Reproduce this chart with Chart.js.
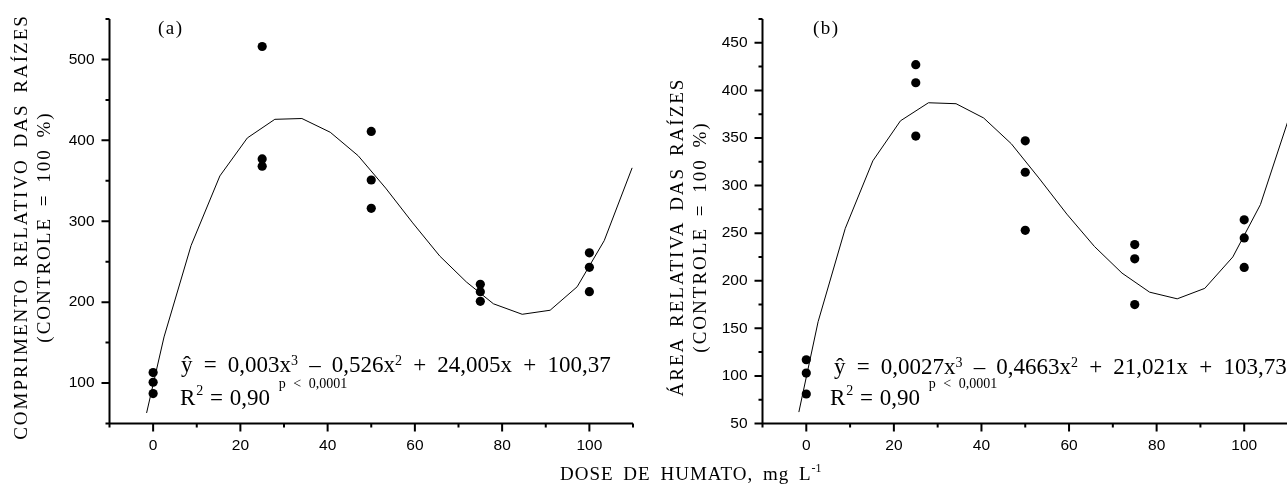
<!DOCTYPE html>
<html><head><meta charset="utf-8">
<script src="https://cdn.jsdelivr.net/npm/chart.js@4/dist/chart.umd.min.js"></script>
<style>
html,body{margin:0;padding:0;background:#fff;overflow:hidden;width:1287px;height:492px}
body{position:relative}
canvas{position:absolute;top:0}
#cA{left:0}
#cB{left:650px}
.t{position:absolute;font-family:"Liberation Serif","Times New Roman",serif;color:#000;white-space:pre;line-height:1}
.yt{font-size:19px;letter-spacing:2px;word-spacing:4px;line-height:23px;text-align:center;width:460px;height:46px;transform:rotate(-90deg);transform-origin:50% 50%}
.eq{font-size:23px;word-spacing:5.4px}
.eq2{font-size:23px;word-spacing:1px}
.s1{font-size:14px;position:relative;top:-7px}
.s2{font-size:14px;position:relative;top:-10px;margin-left:1px}
.pv{font-size:14px;position:relative;top:-17px;word-spacing:4px;margin-left:2px}
.pl{font-size:19px;letter-spacing:1.5px}
.xt{font-size:19px;letter-spacing:1px;word-spacing:4px}
.xs{font-size:12px;position:relative;top:-8px;letter-spacing:0}
</style>
</head>
<body>
<canvas id="cA" width="650" height="492"></canvas>
<canvas id="cB" width="650" height="492"></canvas>

<div class="t yt" style="left:-198px;top:204px">COMPRIMENTO RELATIVO DAS RAÍZES
(CONTROLE = 100 %)</div>
<div class="t yt" style="left:458px;top:214px">ÁREA RELATIVA DAS RAÍZES
(CONTROLE = 100 %)</div>

<div class="t pl" style="left:158px;top:18px">(a)</div>
<div class="t pl" style="left:813px;top:18px">(b)</div>

<div class="t eq" style="left:181px;top:353px">ŷ = 0,003x<span class="s1">3</span> – 0,526x<span class="s1">2</span> + 24,005x + 100,37</div>
<div class="t eq2" style="left:180px;top:386px">R<span class="s2">2</span> = 0,90 <span class="pv">p &lt; 0,0001</span></div>

<div class="t eq" style="left:834px;top:355px">ŷ = 0,0027x<span class="s1">3</span> – 0,4663x<span class="s1">2</span> + 21,021x + 103,73</div>
<div class="t eq2" style="left:830px;top:386px">R<span class="s2">2</span> = 0,90 <span class="pv">p &lt; 0,0001</span></div>

<div class="t xt" style="left:560px;top:464px">DOSE DE HUMATO, mg L<span class="xs">-1</span></div>

<script>
// ---- data ----
const dose = [0,0,0,25,25,25,50,50,50,75,75,75,100,100,100];
const comprimento = [113,101,87,516,377,368,411,351,316,222,213,201,261,243,213];
const area = [117,103,81,427,408,352,347,314,253,238,223,175,264,245,214];

// fitted curves as drawn (vertices)
const fitXA = [-1.5,2.5,8.7,15.3,21.6,27.9,34.1,40.6,47.0,53.3,59.5,65.7,71.8,78.0,84.6,91.0,97.2,103.4,109.8];
const fitYA = [63,157,270,356,403,426,427,410,381,341,298,257,225,198,185,190,219,276,366];
const fitXB = [-1.7,2.7,8.9,15.2,21.5,27.9,34.2,40.5,46.8,53.1,59.5,65.8,72.1,78.4,84.7,91.0,97.4,103.7,110];
const fitYB = [62,157,255,326,368,387,386,371,344,308,270,236,208,188,181,192,225,280,368];

// ticks
const xMajor = [-20,0,20,40,60,80,100,120];
const xLabels = [0,20,40,60,80,100];
const yLabelsA = [100,200,300,400,500];
const yLabelsB = [50,100,150,200,250,300,350,400,450];

const tickFont = {family:"'Liberation Sans', Arial, sans-serif", size:15.5};

const axesPlugin = {
  id:'axesPlugin',
  afterDraw(chart){
    const {ctx, chartArea:a, scales:{x,y}} = chart;
    const yMajor = chart.options.plugins.axesPlugin.yMajor;
    ctx.save();
    ctx.strokeStyle = '#000';
    ctx.lineWidth = 2;
    ctx.beginPath();
    ctx.moveTo(a.left, a.top); ctx.lineTo(a.left, a.bottom+1);
    ctx.moveTo(a.left-1, a.bottom); ctx.lineTo(a.right, a.bottom);
    x.ticks.forEach(t => {
      const px = x.getPixelForValue(t.value);
      const L = xMajor.includes(t.value) ? 8 : 4;
      ctx.moveTo(px, a.bottom); ctx.lineTo(px, a.bottom + L);
    });
    y.ticks.forEach(t => {
      const py = y.getPixelForValue(t.value);
      const L = yMajor.includes(t.value) ? 8 : 4;
      ctx.moveTo(a.left, py); ctx.lineTo(a.left - L, py);
    });
    ctx.stroke();
    ctx.restore();
  }
};

function makeChart(id, yVals, fx, fy, yMin, yMax, yStep, yLabels, leftW, padRight){
  const pts = dose.map((d,i)=>({x:d, y:yVals[i]}));
  const line = fx.map((v,i)=>({x:v, y:fy[i]}));
  return new Chart(document.getElementById(id), {
    type:'scatter',
    data:{datasets:[
      {data:line, showLine:true, borderColor:'#000', borderWidth:1, pointRadius:0, tension:0, fill:false},
      {data:pts, showLine:false, pointRadius:4.6, pointHoverRadius:4.6, backgroundColor:'#000', borderWidth:0}
    ]},
    options:{
      responsive:false, animation:false, events:[],
      layout:{padding:{top:19, right:padRight, left:0, bottom:0}},
      plugins:{legend:{display:false}, tooltip:{enabled:false}, axesPlugin:{yMajor:yLabels}},
      scales:{
        x:{type:'linear', min:-10, max:110,
           grid:{display:false, drawTicks:false}, border:{display:false},
           ticks:{stepSize:10, autoSkip:false, maxRotation:0, padding:13, color:'#000', font:tickFont,
                  callback:v => xLabels.includes(v) ? String(v) : ''},
           afterFit:s => { s.height = 68.5; s.paddingLeft = 0; s.paddingRight = 0; }},
        y:{type:'linear', min:yMin, max:yMax,
           grid:{display:false, drawTicks:false}, border:{display:false},
           ticks:{stepSize:yStep, autoSkip:false, padding:15, color:'#000', font:tickFont,
                  callback:v => yLabels.includes(v) ? String(v) : ''},
           afterFit:s => { s.width = leftW; s.paddingTop = 0; s.paddingBottom = 0; }}
      }
    },
    plugins:[axesPlugin]
  });
}

makeChart('cA', comprimento, fitXA, fitYA, 50, 550, 50, yLabelsA, 109.5, 17);
makeChart('cB', area, fitXB, fitYB, 50, 475, 25, yLabelsB, 112.5, 12);
</script>
</body></html>
